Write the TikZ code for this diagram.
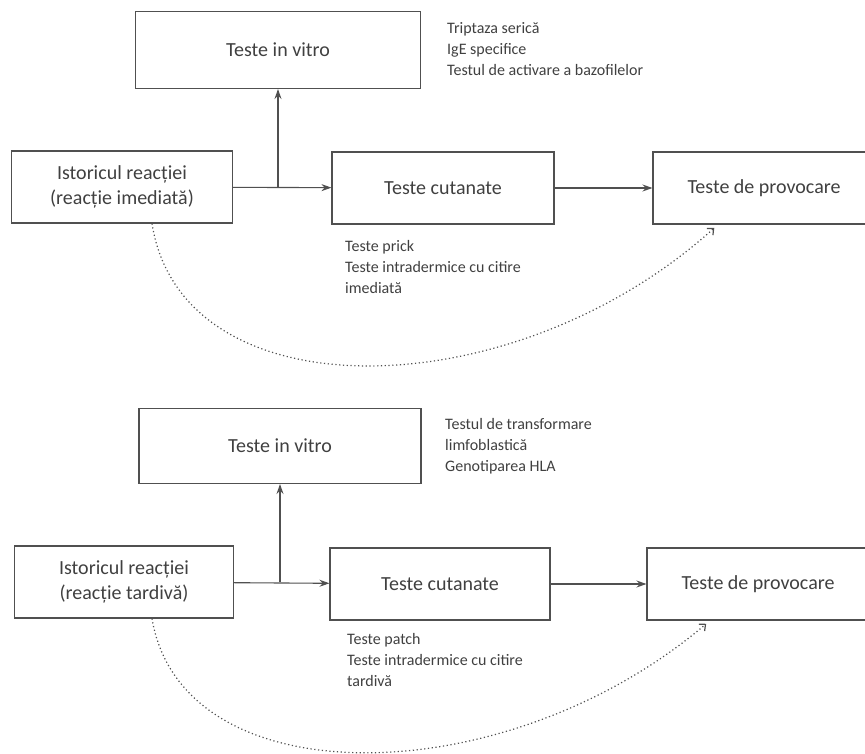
\documentclass[tikz,border=0pt]{standalone}
\usepackage{fontspec}
\setmainfont{Carlito}
\usetikzlibrary{arrows.meta}
\definecolor{linegray}{HTML}{505050}
\definecolor{textgray}{HTML}{404040}

\begin{document}
\begin{tikzpicture}[x=1pt, y=-1pt,
    box/.style={draw=linegray, line width=1.1pt, text=textgray, align=center, inner sep=0pt, font=\fontsize{20}{25}\selectfont},
    note/.style={text=textgray, align=left, anchor=north west, inner sep=0pt, font=\fontsize{16}{21}\selectfont},
    flow/.style={draw=linegray, line width=1.1pt, -{Stealth[length=10pt,width=7pt]}},
    skip/.style={draw=linegray, line width=1.2pt, dash pattern=on 1.2pt off 2.6pt, shorten >=5pt, -{Straight Barb[length=5pt,width=9pt]}}]
    \useasboundingbox (0,0) rectangle (865,754) ;

    % reactie imediata
    \node [box, minimum width=285pt, minimum height=77pt] (vitro1) at (278,50) {Teste in vitro} ;
    \node [box, minimum width=221pt, minimum height=72pt] (ist1) at (122,187) {Istoricul reacției\\(reacție imediată)} ;
    \node [box, minimum width=222pt, minimum height=72pt] (cut1) at (443,188) {Teste cutanate} ;
    \node [box, minimum width=222pt, minimum height=72pt] (prov1) at (764,188) {Teste de provocare} ;
    \node [note] (in1) at (447,22) {Triptaza serică\\IgE specifice\\Testul de activare a bazofilelor} ;
    \node [note] (sk1) at (345,240) {Teste prick\\Teste intradermice cu citire\\imediată} ;
    \draw [flow] (ist1) -- (cut1) ;
    \draw [flow] (cut1) -- (prov1) ;
    \draw [flow] (vitro1.south |- ist1) -- (vitro1) ;
    \draw [skip] ([xshift=30pt]ist1.south) .. controls +(30,192) and +(-205,185) .. ([xshift=-46pt]prov1.south) ;

    % reactie tardiva
    \node [box, minimum width=282pt, minimum height=75pt] (vitro2) at (280,446) {Teste in vitro} ;
    \node [box, minimum width=219pt, minimum height=72pt] (ist2) at (124,582) {Istoricul reacției\\(reacție tardivă)} ;
    \node [box, minimum width=220pt, minimum height=72pt] (cut2) at (440,584) {Teste cutanate} ;
    \node [box, minimum width=222pt, minimum height=72pt] (prov2) at (758,584) {Teste de provocare} ;
    \node [note] (in2) at (445,418) {Testul de transformare\\limfoblastică\\Genotiparea HLA} ;
    \node [note] (sk2) at (347,633) {Teste patch\\Teste intradermice cu citire\\tardivă} ;
    \draw [flow] (ist2) -- (cut2) ;
    \draw [flow] (cut2) -- (prov2) ;
    \draw [flow] (vitro2.south |- ist2) -- (vitro2) ;
    \draw [skip] ([xshift=28pt]ist2.south) .. controls +(30,180) and +(-205,174) .. ([xshift=-48pt]prov2.south) ;
\end{tikzpicture}
\end{document}
